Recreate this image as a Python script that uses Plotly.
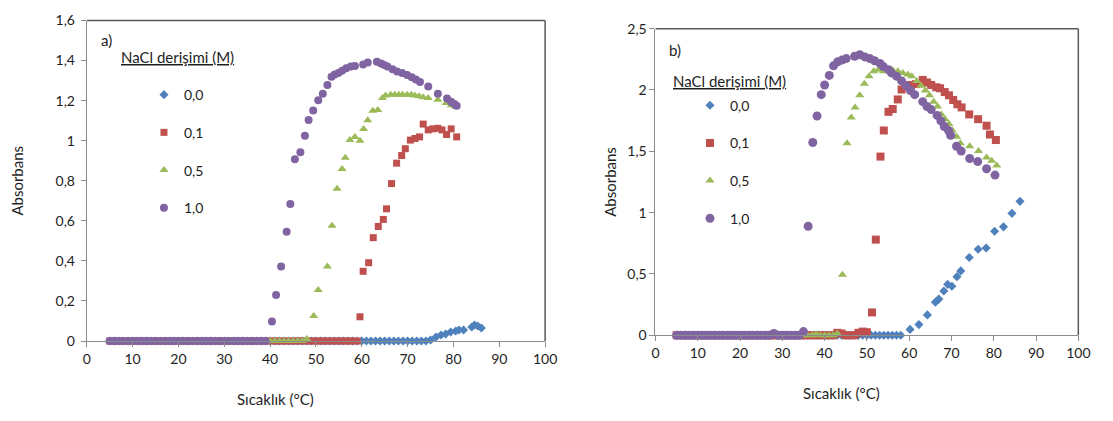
import plotly.graph_objects as go

# ---------------- Panel a) ----------------
a_x_00 = [5, 6, 7, 8, 9, 10, 11, 12, 13, 14, 15, 16, 17, 18, 19, 20, 21, 22, 23, 24,
          25, 26, 27, 28, 29, 30, 31, 32, 33, 34, 35, 36, 37, 38, 39, 40, 41, 42, 43, 44,
          45, 46, 47, 48, 49, 50, 51, 52, 53, 54, 55, 56, 57, 58, 59, 60, 61, 62, 63, 64,
          65, 66, 67, 68, 69, 70, 71, 72, 73, 74, 75,
          76.2, 77.3, 78.3, 79.4, 80.5, 81.2, 82.2, 84.0, 84.6, 85.3, 86.1]
a_y_00 = [0, 0, 0, 0, 0, 0, 0, 0, 0, 0, 0, 0, 0, 0, 0, 0, 0, 0, 0, 0,
          0, 0, 0, 0, 0, 0, 0, 0, 0, 0, 0, 0, 0, 0, 0, 0, 0, 0, 0, 0,
          0, 0, 0, 0, 0, 0, 0, 0, 0, 0, 0, 0, 0, 0, 0, 0, 0, 0, 0, 0,
          0, 0, 0, 0, 0, 0, 0, 0, 0, 0, 0.005,
          0.02, 0.03, 0.035, 0.045, 0.05, 0.055, 0.055, 0.07, 0.08, 0.075, 0.065]

a_x_01 = [5, 6, 7, 8, 9, 10, 11, 12, 13, 14, 15, 16, 17, 18, 19, 20, 21, 22, 23, 24,
          25, 26, 27, 28, 29, 30, 31, 32, 33, 34, 35, 36, 37, 38, 39, 40, 41, 42, 43, 44,
          45, 46, 47, 48, 49, 50, 51, 52, 53, 54, 55, 56, 57, 58, 59,
          59.6, 60.3, 61.5, 62.5, 63.6, 64.7, 65.4, 66.5, 67.6, 68.7, 69.5, 70.6, 71.6,
          72.6, 73.4, 74.5, 75.5, 76.6, 77.5, 78.5, 79.5, 80.7]
a_y_01 = [0, 0, 0, 0, 0, 0, 0, 0, 0, 0, 0, 0, 0, 0, 0, 0, 0, 0, 0, 0,
          0, 0, 0, 0, 0, 0, 0, 0, 0, 0, 0, 0, 0, 0, 0, 0, 0, 0, 0, 0,
          0, 0, 0, 0, 0, 0, 0, 0, 0, 0, 0, 0, 0, 0, 0,
          0.121, 0.348, 0.391, 0.516, 0.572, 0.607, 0.660, 0.786, 0.888, 0.926, 0.960, 1.003, 1.011,
          1.019, 1.083, 1.054, 1.059, 1.062, 1.054, 1.031, 1.059, 1.019]

a_x_05 = [5, 6, 7, 8, 9, 10, 11, 12, 13, 14, 15, 16, 17, 18, 19, 20, 21, 22, 23, 24,
          25, 26, 27, 28, 29, 30, 31, 32, 33, 34, 35, 36, 37, 38, 39, 40, 41, 42, 43, 44,
          45, 46, 47, 48,
          49.5, 50.5, 52.5, 53.5, 54.6, 55.7, 56.4, 57.4, 58.5, 59.6, 60.4, 61.3, 62.4, 63.5,
          64.5, 65.2, 66.3, 67.2, 68.1, 68.9, 69.9, 70.8, 71.6, 72.5, 73.4, 74.5, 76.6, 78.4,
          79.5, 80.5]
a_y_05 = [0, 0, 0, 0, 0, 0, 0, 0, 0, 0, 0, 0, 0, 0, 0, 0, 0, 0, 0, 0,
          0, 0, 0, 0, 0, 0, 0, 0, 0, 0, 0, 0, 0, 0, 0, 0, 0, 0, 0, 0,
          0, 0, 0, 0.01,
          0.125, 0.255, 0.372, 0.575, 0.760, 0.859, 0.915, 1.003, 1.019, 1.000, 1.059, 1.102, 1.150, 1.153,
          1.213, 1.226, 1.230, 1.230, 1.230, 1.230, 1.230, 1.230, 1.226, 1.222, 1.217, 1.213, 1.205, 1.188,
          1.177, 1.169]

a_x_10 = [5, 6, 7, 8, 9, 10, 11, 12, 13, 14, 15, 16, 17, 18, 19, 20, 21, 22, 23, 24,
          25, 26, 27, 28, 29, 30, 31, 32, 33, 34, 35, 36, 37, 38, 39,
          40.4, 41.3, 42.4, 43.6, 44.4, 45.4, 46.6, 47.6, 48.4, 49.4, 50.5, 51.5, 52.5, 53.4,
          54.1, 54.9, 55.7, 56.6, 57.6, 58.5, 60.3, 61.3, 63.3, 64.2, 64.9, 65.6, 66.7, 67.7,
          68.8, 69.9, 70.9, 71.8, 72.7, 74.5, 76.6, 78.6, 79.5, 80.2, 80.7]
a_y_10 = [0, 0, 0, 0, 0, 0, 0, 0, 0, 0, 0, 0, 0, 0, 0, 0, 0, 0, 0, 0,
          0, 0, 0, 0, 0, 0, 0, 0, 0, 0, 0, 0, 0, 0, 0,
          0.097, 0.230, 0.372, 0.546, 0.684, 0.907, 0.942, 1.025, 1.103, 1.151, 1.202, 1.234, 1.278, 1.319,
          1.330, 1.338, 1.349, 1.362, 1.370, 1.373, 1.381, 1.391, 1.394, 1.386, 1.378, 1.370, 1.357, 1.346,
          1.338, 1.328, 1.317, 1.306, 1.293, 1.271, 1.234, 1.211, 1.194, 1.183, 1.174]

# ---------------- Panel b) ----------------
b_x_00 = [5, 6, 7, 8, 9, 10, 11, 12, 13, 14, 15, 16, 17, 18, 19, 20, 21, 22, 23, 24,
          25, 26, 27, 28, 29, 30, 31, 32, 33, 34, 35, 36, 37, 38, 39, 40, 41, 42, 43, 44,
          45, 46, 47, 48, 49, 50, 51, 52, 53, 54, 55, 56, 57, 58,
          60.2, 62.3, 64.3, 66.2, 67.0, 68.2, 69.1, 70.1, 71.3, 72.2, 74.2, 76.3, 78.2,
          80.2, 82.3, 84.3, 86.2]
b_y_00 = [0, 0, 0, 0, 0, 0, 0, 0, 0, 0, 0, 0, 0, 0, 0, 0, 0, 0, 0, 0,
          0, 0, 0, 0, 0, 0, 0, 0, 0, 0, 0, 0, 0, 0, 0, 0, 0, 0, 0, 0,
          0, 0, 0, 0, 0, 0, 0, 0, 0, 0, 0, 0, 0, 0,
          0.048, 0.087, 0.166, 0.270, 0.295, 0.361, 0.415, 0.400, 0.478, 0.525, 0.634, 0.702, 0.712,
          0.848, 0.884, 0.994, 1.092]

b_x_01 = [5, 6, 7, 8, 9, 10, 11, 12, 13, 14, 15, 16, 17, 18, 19, 20, 21, 22, 23, 24,
          25, 26, 27, 28, 29, 30, 31, 32, 33, 34, 35, 36, 37, 38, 39, 40, 41, 42, 43, 44,
          45, 46, 47, 48, 49, 50,
          51.2, 52.1, 53.2, 54.0, 55.1, 56.1, 57.3, 58.2, 59.2, 60.4, 61.6, 63.2, 64.2,
          65.2, 66.4, 67.3, 68.4, 69.4, 70.4, 71.4, 72.4, 74.2, 76.3, 78.3, 79.1, 80.5]
b_y_01 = [0, 0, 0, 0, 0, 0, 0, 0, 0, 0, 0, 0, 0, 0, 0, 0, 0, 0, 0, 0,
          0, 0, 0, 0, 0, 0, 0, 0, 0, 0, 0, 0, 0, 0, 0, 0, 0, 0, 0.02, 0.015,
          0, 0, 0, 0.02, 0.03, 0.025,
          0.186, 0.780, 1.457, 1.670, 1.822, 1.845, 1.923, 2.004, 2.035, 2.041, 2.048, 2.082, 2.061,
          2.041, 2.022, 2.014, 1.983, 1.957, 1.918, 1.884, 1.858, 1.801, 1.762, 1.709, 1.637, 1.592]

b_x_05 = [5, 6, 7, 8, 9, 10, 11, 12, 13, 14, 15, 16, 17, 18, 19, 20, 21, 22, 23, 24,
          25, 26, 27, 28, 29, 30, 31, 32, 33, 34, 35, 36, 37, 38, 39, 40, 41, 42, 43,
          44.2, 45.3, 46.3, 47.2, 48.3, 49.4, 50.5, 51.6, 52.7, 53.9, 55.0, 56.1, 57.3,
          58.5, 59.7, 60.6, 61.8, 62.8, 63.8, 64.8, 65.8, 66.7, 67.6, 68.5, 69.4, 70.2,
          71.2, 72.1, 74.3, 76.4, 78.3, 79.5, 80.7]
b_y_05 = [0, 0, 0, 0, 0, 0, 0, 0, 0, 0, 0, 0, 0, 0, 0, 0, 0, 0, 0, 0,
          0, 0, 0, 0, 0, 0, 0, 0, 0, 0, 0, 0, 0, 0.01, 0, 0, 0, 0, 0.015,
          0.494, 1.566, 1.775, 1.858, 1.957, 2.050, 2.113, 2.152, 2.166, 2.152, 2.152, 2.160, 2.152,
          2.139, 2.127, 2.113, 2.074, 2.035, 1.996, 1.957, 1.905, 1.866, 1.801, 1.762, 1.723, 1.670,
          1.619, 1.566, 1.541, 1.502, 1.449, 1.423, 1.384]

b_x_10 = [5, 6, 7, 8, 9, 10, 11, 12, 13, 14, 15, 16, 17, 18, 19, 20, 21, 22, 23, 24,
          25, 26, 27, 28, 29, 30, 31, 32, 33, 34, 35,
          36.1, 37.2, 38.2, 39.2, 40.0, 41.1, 42.1, 43.1, 44.1, 45.1, 47.1, 48.3, 49.5,
          50.7, 51.8, 53.1, 53.9, 55.1, 55.8, 57.0, 58.2, 59.3, 60.3, 61.3, 63.2, 64.2,
          65.2, 66.6, 67.5, 68.3, 69.3, 69.8, 71.2, 72.3, 74.3, 76.2, 78.3, 80.3]
b_y_10 = [0, 0, 0, 0, 0, 0, 0, 0, 0, 0, 0, 0, 0, 0, 0, 0, 0, 0, 0, 0,
          0, 0, 0, 0.015, 0, 0, 0, 0, 0, 0, 0.03,
          0.889, 1.572, 1.788, 1.962, 2.041, 2.119, 2.197, 2.230, 2.244, 2.256, 2.275, 2.287, 2.270,
          2.256, 2.238, 2.217, 2.191, 2.166, 2.139, 2.113, 2.074, 2.035, 1.996, 1.962, 1.905, 1.865,
          1.840, 1.793, 1.748, 1.702, 1.670, 1.631, 1.541, 1.502, 1.441, 1.416, 1.358, 1.306]

series_names = ["0,0", "0,1", "0,5", "1,0"]
series_colors = ["#4F81BD", "#C0504D", "#9BBB59", "#8064A2"]
series_symbols = ["diamond", "square", "triangle-up", "circle"]

x_ticks = [0, 10, 20, 30, 40, 50, 60, 70, 80, 90, 100]
a_y_ticks = [0, 0.2, 0.4, 0.6, 0.8, 1.0, 1.2, 1.4, 1.6]
a_y_ticktext = ["0", "0,2", "0,4", "0,6", "0,8", "1", "1,2", "1,4", "1,6"]
b_y_ticks = [0, 0.5, 1.0, 1.5, 2.0, 2.5]
b_y_ticktext = ["0", "0,5", "1", "1,5", "2", "2,5"]

FONT = "Lato, 'Open Sans', sans-serif"
TXT = "#1e1e1e"
AXC = "#8C8C8C"
BORDER = "#595959"
W, H = 1113, 421

fig = go.Figure()

a_data = [(a_x_00, a_y_00), (a_x_01, a_y_01), (a_x_05, a_y_05), (a_x_10, a_y_10)]
b_data = [(b_x_00, b_y_00), (b_x_01, b_y_01), (b_x_05, b_y_05), (b_x_10, b_y_10)]
a_sizes = [7, 7, 8, 8]
b_sizes = [7, 8, 8, 9]

for i, (xs, ys) in enumerate(a_data):
    fig.add_trace(go.Scatter(
        x=xs, y=ys, mode="markers", name=series_names[i],
        marker=dict(symbol=series_symbols[i], color=series_colors[i], size=a_sizes[i]),
        xaxis="x", yaxis="y", legend="legend", legendgroup="a" + str(i),
        cliponaxis=False, hoverinfo="x+y+name"))

for i, (xs, ys) in enumerate(b_data):
    fig.add_trace(go.Scatter(
        x=xs, y=ys, mode="markers", name=series_names[i],
        marker=dict(symbol=series_symbols[i], color=series_colors[i], size=b_sizes[i]),
        xaxis="x2", yaxis="y2", legend="legend2", legendgroup="b" + str(i),
        cliponaxis=False, hoverinfo="x+y+name"))

axis_common = dict(showgrid=False, zeroline=False, showline=True, linecolor=AXC, linewidth=1,
                   ticks="outside", ticklen=5, tickcolor=AXC,
                   tickfont=dict(family=FONT, size=14, color=TXT))

fig.update_layout(
    width=W, height=H,
    margin=dict(l=0, r=0, t=0, b=0),
    paper_bgcolor="white", plot_bgcolor="white",
    font=dict(family=FONT, size=14, color=TXT),
    xaxis=dict(domain=[84 / W, 549 / W], range=[0, 100], tickvals=x_ticks, anchor="y", **axis_common),
    yaxis=dict(domain=[1 - 346 / H, 1 - 12 / H], range=[0, 1.6], tickvals=a_y_ticks,
               ticktext=a_y_ticktext, anchor="x", ticklabelstandoff=3,
               title=dict(text="Absorbans", font=dict(family=FONT, size=15, color=TXT), standoff=28),
               **axis_common),
    xaxis2=dict(domain=[661 / W, 1090 / W], range=[0, 100], tickvals=x_ticks, anchor="y2", **axis_common),
    yaxis2=dict(domain=[1 - 340 / H, 1 - 20.5 / H], range=[0, 2.5], tickvals=b_y_ticks,
                ticktext=b_y_ticktext, anchor="x2",
                title=dict(text="Absorbans", font=dict(family=FONT, size=15, color=TXT), standoff=7),
                **axis_common),
    legend=dict(x=142 / W, y=1 - 73 / H, xanchor="left", yanchor="top",
                bgcolor="rgba(0,0,0,0)", font=dict(family=FONT, size=14, color=TXT),
                tracegroupgap=16.5, itemsizing="trace"),
    legend2=dict(x=696 / W, y=1 - 84 / H, xanchor="left", yanchor="top",
                 bgcolor="rgba(0,0,0,0)", font=dict(family=FONT, size=14, color=TXT),
                 tracegroupgap=16.5, itemsizing="trace"),
    showlegend=True,
)

# plot-area top and right borders
for xr, yr in [("x domain", "y domain"), ("x2 domain", "y2 domain")]:
    fig.add_shape(type="line", xref=xr, yref=yr, x0=0, x1=1, y0=1, y1=1,
                  line=dict(color=BORDER, width=1.5))
    fig.add_shape(type="line", xref=xr, yref=yr, x0=1, x1=1, y0=0, y1=1,
                  line=dict(color=BORDER, width=1.5))

ul = "<span style='text-decoration:underline'>NaCl derişimi (M)</span>"
annots = [
    dict(text="a)", x=96 / W, y=1 - 32 / H, xanchor="left", yanchor="middle"),
    dict(text=ul, x=117 / W, y=1 - 50 / H, xanchor="left", yanchor="middle"),
    dict(text="b)", x=673 / W, y=1 - 43 / H, xanchor="left", yanchor="middle"),
    dict(text=ul, x=677 / W, y=1 - 75 / H, xanchor="left", yanchor="middle"),
    dict(text="Sıcaklık (°C)", x=275 / W, y=1 - 406 / H, xanchor="center", yanchor="middle"),
    dict(text="Sıcaklık (°C)", x=850 / W, y=1 - 400 / H, xanchor="center", yanchor="middle"),
]
for a in annots:
    fig.add_annotation(xref="paper", yref="paper", showarrow=False,
                       font=dict(family=FONT, size=15, color=TXT), **a)

fig.write_html("out.html", config={"displayModeBar": False},
               post_script="document.body.style.margin='0';")
